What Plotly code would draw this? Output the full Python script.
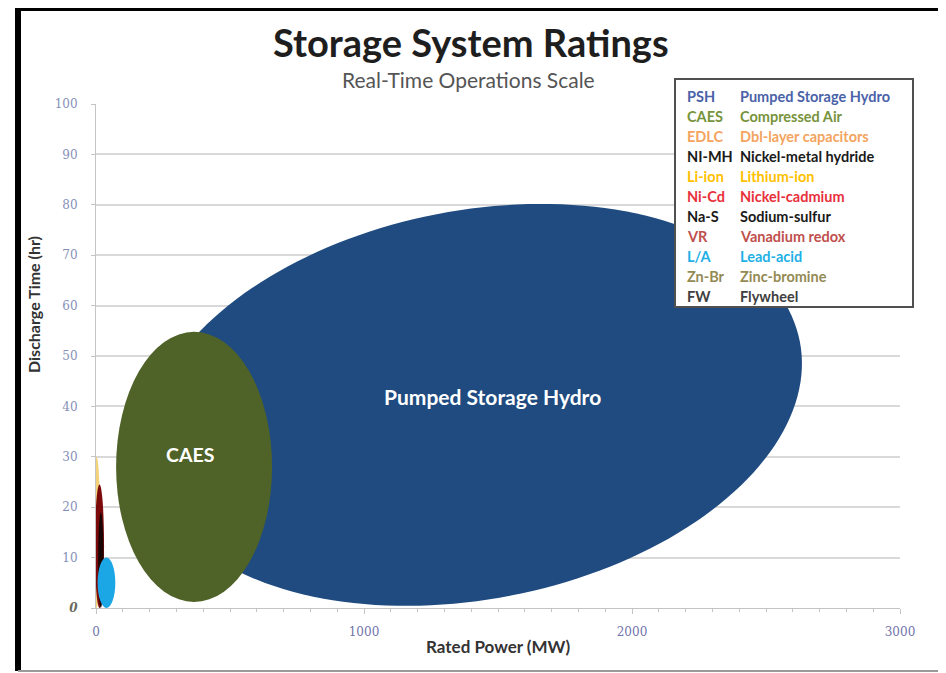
import math
import plotly.graph_objects as go

# ---------------- data ----------------
title_text = "Storage System Ratings"
subtitle_text = "Real-Time Operations Scale"
x_title = "Rated Power (MW)"
y_title = "Discharge Time (hr)"

x_ticks = [0, 1000, 2000, 3000]
y_ticks = [0, 10, 20, 30, 40, 50, 60, 70, 80, 90, 100]

# legend entries
legend_abbr = ["PSH", "CAES", "EDLC", "NI-MH", "Li-ion", "Ni-Cd", "Na-S", "VR", "L/A", "Zn-Br", "FW"]
legend_name = ["Pumped Storage Hydro", "Compressed Air", "Dbl-layer capacitors",
               "Nickel-metal hydride", "Lithium-ion", "Nickel-cadmium", "Sodium-sulfur",
               "Vanadium redox", "Lead-acid", "Zinc-bromine", "Flywheel"]
legend_color = ["#4a62a8", "#77933c", "#f4a460", "#1a1a1a", "#ffc000", "#e8303a",
                "#1a1a1a", "#c0504d", "#1fb0e6", "#948a54", "#404040"]

# axis-aligned rating ellipses: MW range (x0,x1) and hour range (y0,y1)
ell_name = ["Li-ion", "Ni-Cd", "Na-S", "L/A", "CAES"]
ell_x0 = [-12, -4, 8, 6, 75]
ell_x1 = [16, 30, 28, 72, 657]
ell_y0 = [0, 0, 0, 0, 1.2]
ell_y1 = [30, 24.5, 19, 10, 54.8]
ell_color = ["#f3d27a", "#7c0a0a", "#1a0505", "#1ba6e6", "#4f6228"]

# tilted PSH ellipse: centre (MW, hr), half-axes (MW, hr), tilt (deg)
psh_center = (1410, 40.3)
psh_half = (1239, 38.55)
psh_tilt = 11.0
psh_color = "#1f4b80"

# in-chart labels: text, MW, hr, font size
lab_text = ["Pumped Storage Hydro", "CAES"]
lab_x = [1478, 351]
lab_y = [41.9, 30.4]
lab_size = [21, 19.5]

# ---------------- layout geometry ----------------
OFF = 8                      # page body margin
W, H = 946 - OFF, 673 - OFF
PX0, PX1, PY0, PY1 = 96, 900, 104, 608   # plot area on screen
ML, MT = PX0 - OFF, PY0 - OFF
PW, PH = PX1 - PX0, PY1 - PY0
MR, MB = W - ML - PW, H - MT - PH
XR, YR = (0, 3000), (0, 100)
kx = PW / (XR[1] - XR[0])  # px per MW
ky = PH / (YR[1] - YR[0])  # px per hr


def px_to_paper(px, py):
    return (px - PX0) / PW, (PY1 - py) / PH


FONT = "Lato"
fig = go.Figure()
fig.add_trace(go.Scatter(x=[None], y=[None], showlegend=False))

shapes = []
# PSH rotated ellipse path
a_px = psh_half[0] * kx
b_px = psh_half[1] * ky
th = math.radians(psh_tilt)
pts = []
for i in range(181):
    t = 2 * math.pi * i / 180
    dx = a_px * math.cos(t) * math.cos(th) - b_px * math.sin(t) * math.sin(th)
    dy = a_px * math.cos(t) * math.sin(th) + b_px * math.sin(t) * math.cos(th)
    pts.append((psh_center[0] + dx / kx, psh_center[1] + dy / ky))
path = "M " + " L ".join(f"{x:.2f},{y:.3f}" for x, y in pts) + " Z"
shapes.append(dict(type="path", xref="x", yref="y", path=path,
                   fillcolor=psh_color, line=dict(width=0), layer="above"))

order = [4, 0, 1, 2, 3]
for i in order:
    shapes.append(dict(type="circle", xref="x", yref="y",
                       x0=ell_x0[i], x1=ell_x1[i], y0=ell_y0[i], y1=ell_y1[i],
                       fillcolor=ell_color[i], line=dict(width=0), layer="above"))

# legend box
bx0, by0 = px_to_paper(675, 307)
bx1, by1 = px_to_paper(913, 79)
shapes.append(dict(type="rect", xref="paper", yref="paper", x0=bx0, x1=bx1, y0=by0, y1=by1,
                   fillcolor="white", line=dict(color="#505050", width=2), layer="above"))

# outer frame
fx, fy_top = px_to_paper(18, 9)
_, fy_bot = px_to_paper(0, 671)
fx_r, _ = px_to_paper(950, 0)
fx_l, _ = px_to_paper(15, 0)
shapes.append(dict(type="line", xref="paper", yref="paper", x0=fx, x1=fx, y0=fy_bot, y1=fy_top + 0.01,
                   line=dict(color="black", width=6)))
shapes.append(dict(type="line", xref="paper", yref="paper", x0=fx_l, x1=fx_r, y0=fy_top, y1=fy_top,
                   line=dict(color="black", width=4)))
shapes.append(dict(type="line", xref="paper", yref="paper", x0=fx, x1=fx_r, y0=fy_bot, y1=fy_bot,
                   line=dict(color="#9a9a9a", width=2)))

annotations = []
# title and subtitle
tx, ty = px_to_paper(471, 42)
annotations.append(dict(text=f"<b>{title_text}</b>", xref="paper", yref="paper", x=tx, y=ty,
                        xanchor="center", yanchor="middle", showarrow=False,
                        font=dict(family=FONT, size=38, color="#1e1e1e")))
sx, sy = px_to_paper(468, 80)
annotations.append(dict(text=subtitle_text, xref="paper", yref="paper", x=sx, y=sy,
                        xanchor="center", yanchor="middle", showarrow=False,
                        font=dict(family=FONT, size=21, color="#555555")))

# legend text
for i, (ab, nm, col) in enumerate(zip(legend_abbr, legend_name, legend_color)):
    ay = 96.7 + 20 * i
    ax0, ayp = px_to_paper(685, ay)
    ax1, _ = px_to_paper(738, ay)
    annotations.append(dict(text=f"<b>{ab}</b>", xref="paper", yref="paper", x=ax0, y=ayp,
                            xanchor="left", yanchor="middle", showarrow=False,
                            font=dict(family=FONT, size=14.5, color=col)))
    annotations.append(dict(text=f"<b>{nm}</b>", xref="paper", yref="paper", x=ax1, y=ayp,
                            xanchor="left", yanchor="middle", showarrow=False,
                            font=dict(family=FONT, size=14.5, color=col)))

# in-chart labels
for t, x, y, s in zip(lab_text, lab_x, lab_y, lab_size):
    annotations.append(dict(text=f"<b>{t}</b>", xref="x", yref="y", x=x, y=y,
                            xanchor="center", yanchor="middle", showarrow=False,
                            font=dict(family=FONT, size=s, color="white")))

# axis titles
xtx, xty = px_to_paper(498, 646)
annotations.append(dict(text=f"<b>{x_title}</b>", xref="paper", yref="paper", x=xtx, y=xty,
                        xanchor="center", yanchor="middle", showarrow=False,
                        font=dict(family=FONT, size=17, color="#333333")))
ytx, yty = px_to_paper(33, 305)
annotations.append(dict(text=f"<b>{y_title}</b>", xref="paper", yref="paper", x=ytx, y=yty,
                        xanchor="center", yanchor="middle", showarrow=False, textangle=-90,
                        font=dict(family=FONT, size=16, color="#333333")))

x_tick_font = dict(family="DejaVu Serif", size=12, color="#6f74aa")
y_tick_font = dict(family="DejaVu Serif", size=12, color="#8590b8")
y_ticktext = [str(v) for v in y_ticks]
y_ticktext[0] = "<span style='color:#6b6b5e'><b><i>0</i></b></span>"

fig.update_layout(
    width=W, height=H,
    margin=dict(l=ML, r=MR, t=MT, b=MB),
    paper_bgcolor="white", plot_bgcolor="white",
    showlegend=False,
    shapes=shapes, annotations=annotations,
    xaxis=dict(range=list(XR), tickvals=x_ticks, ticktext=[str(v) for v in x_ticks],
               showgrid=False, zeroline=False, showline=True, linecolor="#c4c4c4", linewidth=1,
               ticks="outside", ticklen=5, tickcolor="#c4c4c4",
               minor=dict(dtick=100, ticks="outside", ticklen=3, tickcolor="#c4c4c4", showgrid=False),
               tickfont=x_tick_font, ticklabelstandoff=8, fixedrange=True),
    yaxis=dict(range=list(YR), tickvals=y_ticks, ticktext=y_ticktext,
               showgrid=True, gridcolor="#d9d9d9", gridwidth=1.5, zeroline=False,
               showline=True, linecolor="#c4c4c4", linewidth=1,
               ticks="outside", ticklen=4, tickcolor="#c4c4c4",
               tickfont=y_tick_font, ticklabelstandoff=11, fixedrange=True),
)

fig.write_html("out.html")
